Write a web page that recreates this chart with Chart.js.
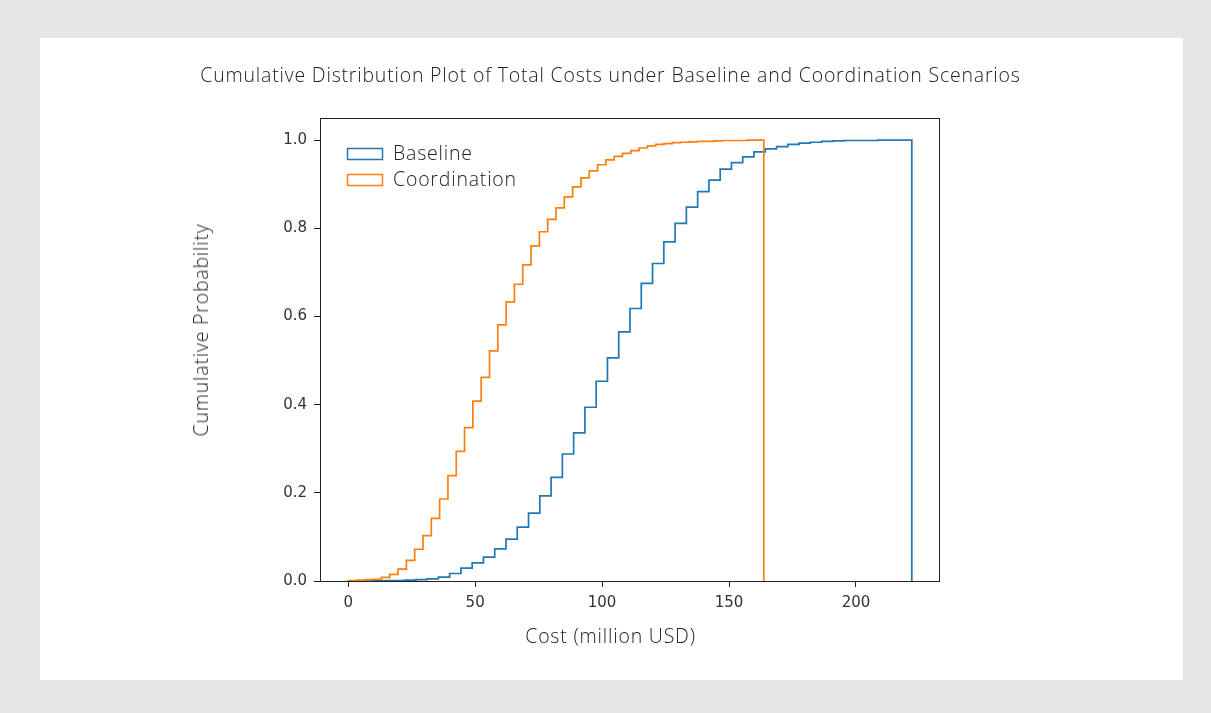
<!DOCTYPE html>
<html>
<head>
<meta charset="utf-8">
<script src="https://cdn.jsdelivr.net/npm/chart.js@4.4.0/dist/chart.umd.min.js"></script>
<style>
  html, body { margin: 0; padding: 0; }
  body { width: 1211px; height: 713px; background: #e4e5e6; position: relative; overflow: hidden;
         font-family: "Open Sans", Lato, sans-serif; }
  .panel { position: absolute; left: 40px; top: 38px; width: 1143px; height: 642px; background: #fff; }
  #chart { position: absolute; left: 0; top: 0; }
  .lbl { position: absolute; color: #222; font-weight: 300; white-space: nowrap; line-height: 26px;
         letter-spacing: 0.8px; }
  #title { left: 0; width: 1221px; top: 62px; text-align: center; font-size: 19.5px; }
  #xlabel { left: 0; width: 1221px; top: 623px; text-align: center; font-size: 19.5px; }
  #ylabel { left: 201px; top: 330px; font-size: 19.5px; transform: translate(-50%, -50%) rotate(-90deg); }
</style>
</head>
<body>
<div class="panel"></div>
<canvas id="chart" width="1211" height="713"></canvas>
<div class="lbl" id="title">Cumulative Distribution Plot of Total Costs under Baseline and Coordination Scenarios</div>
<div class="lbl" id="xlabel">Cost (million USD)</div>
<div class="lbl" id="ylabel">Cumulative Probability</div>
<script>
// 数据：累计概率（每个分箱结束处），50 个分箱
const seriesLabels = ['Baseline', 'Coordination'];
const seriesColors = ['#1f77b4', '#ff7f0e'];

const baselineRange = [0, 222];
const baselineCum = [
    0, 0, 0.0005, 0.001, 0.001, 0.002, 0.003, 0.005, 0.009, 0.017,
    0.029, 0.041, 0.054, 0.073, 0.095, 0.122, 0.154, 0.193, 0.235, 0.288,
    0.336, 0.394, 0.453, 0.506, 0.565, 0.618, 0.675, 0.720, 0.769, 0.811,
    0.848, 0.883, 0.909, 0.934, 0.949, 0.962, 0.973, 0.980, 0.985, 0.990,
    0.993, 0.995, 0.997, 0.998, 0.999, 0.999, 0.999, 1.0, 1.0, 1.0
];

const coordRange = [0, 163.7];
const coordCum = [
    0.001, 0.002, 0.003, 0.004, 0.008, 0.015, 0.027, 0.047, 0.072, 0.103,
    0.142, 0.186, 0.239, 0.294, 0.348, 0.408, 0.462, 0.522, 0.581, 0.633,
    0.673, 0.717, 0.760, 0.792, 0.820, 0.846, 0.871, 0.894, 0.914, 0.930,
    0.944, 0.955, 0.963, 0.970, 0.976, 0.982, 0.987, 0.990, 0.992, 0.994,
    0.995, 0.996, 0.997, 0.997, 0.998, 0.999, 0.999, 0.999, 1.0, 1.0
];

const xTicks = [0, 50, 100, 150, 200];
const yTicks = [0, 0.2, 0.4, 0.6, 0.8, 1.0];
const xRange = [-11.1, 233.1];
const yRange = [0, 1.05];

// 阶梯直方图轮廓：分箱边界 + 累计值
function stepPoints(range, cum) {
    const w = (range[1] - range[0]) / cum.length;
    const pts = [{ x: range[0], y: 0 }];
    cum.forEach((c, i) => pts.push({ x: range[0] + w * (i + 1), y: c }));
    pts.push({ x: range[1], y: 0 });
    return pts;
}

// 坐标框
const framePlugin = {
    id: 'frame',
    afterDatasetsDraw(chart) {
        const { ctx, chartArea: a } = chart;
        ctx.save();
        ctx.strokeStyle = '#222';
        ctx.lineWidth = 1;
        ctx.strokeRect(a.left + 0.5, a.top + 0.5, a.right - a.left - 1, a.bottom - a.top);
        ctx.restore();
    }
};

// 图例（左上角，空心矩形）
const legendPlugin = {
    id: 'boxLegend',
    afterDraw(chart) {
        const { ctx, chartArea: a } = chart;
        ctx.save();
        ctx.font = '300 19.5px "Open Sans", Lato, sans-serif';
        ctx.letterSpacing = '0.8px';
        ctx.textBaseline = 'middle';
        chart.data.datasets.forEach((ds, i) => {
            const y = a.top + 36 + i * 26;
            ctx.strokeStyle = ds.borderColor;
            ctx.lineWidth = 1.5;
            ctx.strokeRect(a.left + 27.5, y - 5.5, 35, 11);
            ctx.fillStyle = '#222';
            ctx.fillText(ds.label, a.left + 73, y);
        });
        ctx.restore();
    }
};

const tickFont = { family: 'DejaVu Sans', size: 15 };

new Chart(document.getElementById('chart').getContext('2d'), {
    type: 'line',
    data: {
        datasets: [
            {
                label: seriesLabels[0],
                data: stepPoints(baselineRange, baselineCum),
                borderColor: seriesColors[0],
                borderWidth: 1.7,
                stepped: 'after',
                pointRadius: 0,
                fill: false,
                order: 1
            },
            {
                label: seriesLabels[1],
                data: stepPoints(coordRange, coordCum),
                borderColor: seriesColors[1],
                borderWidth: 1.7,
                stepped: 'after',
                pointRadius: 0,
                fill: false,
                order: 0
            }
        ]
    },
    options: {
        responsive: false,
        animation: false,
        devicePixelRatio: 1,
        layout: { padding: { left: 260, right: 271, top: 118, bottom: 92 } },
        plugins: {
            legend: { display: false },
            tooltip: { enabled: false }
        },
        scales: {
            x: {
                type: 'linear',
                min: xRange[0],
                max: xRange[1],
                border: { display: false },
                grid: { drawOnChartArea: false, tickLength: 6, color: '#222' },
                ticks: { font: tickFont, color: '#333', padding: 7, maxRotation: 0 },
                afterBuildTicks: (s) => { s.ticks = xTicks.map(v => ({ value: v })); },
                afterFit: (s) => { s.height = 40; }
            },
            y: {
                type: 'linear',
                min: yRange[0],
                max: yRange[1],
                border: { display: false },
                grid: { drawOnChartArea: false, tickLength: 6, color: '#222' },
                ticks: { font: tickFont, color: '#333', padding: 7, callback: v => v.toFixed(1) },
                afterBuildTicks: (s) => { s.ticks = yTicks.map(v => ({ value: v })); },
                afterFit: (s) => { s.width = 60; }
            }
        }
    },
    plugins: [framePlugin, legendPlugin]
});
</script>
</body>
</html>
